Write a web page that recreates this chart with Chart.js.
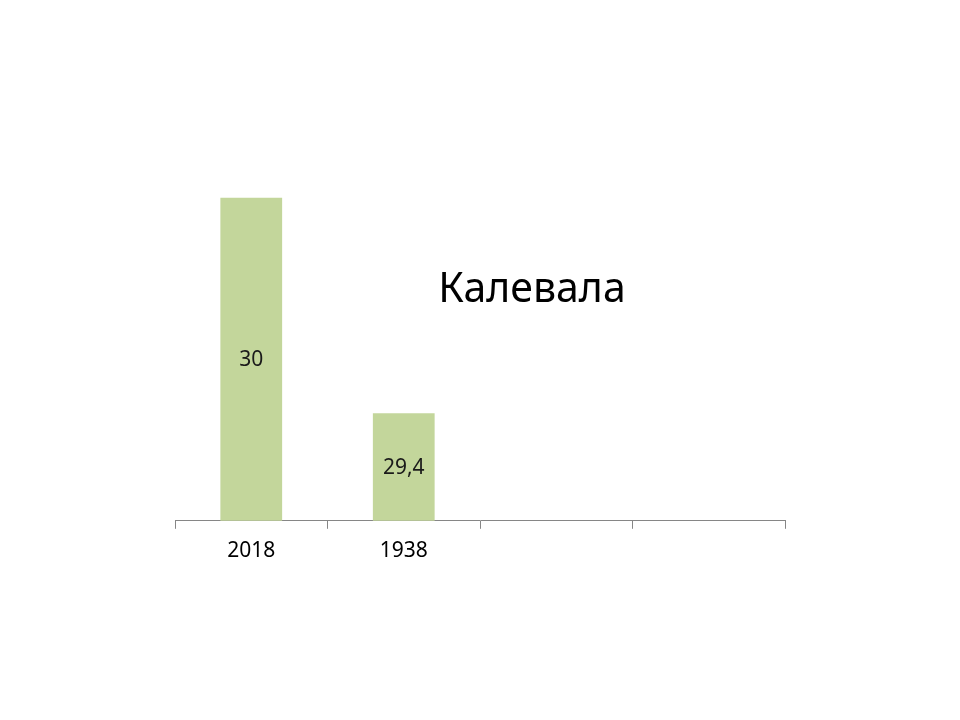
<!DOCTYPE html>
<html>
<head>
<meta charset="utf-8">
<script src="https://cdn.jsdelivr.net/npm/chart.js@4"></script>
<style>
    html, body { margin: 0; padding: 0; background: #ffffff; }
    #wrap { width: 960px; height: 720px; }
</style>
</head>
<body>
<div id="wrap"><canvas id="kalevalaChart" width="960" height="720"></canvas></div>
<script>
// данные
const categories = ['2018', '1938', '', ''];
const values = [30, 29.4, null, null];
const titleText = 'Калевала';

// подписи значений в центре столбцов
const barLabels = {
    id: 'barLabels',
    afterDraw(chart) {
        const c = chart.ctx;
        const xs = chart.scales.x;
        const ys = chart.scales.y;
        const base = ys.getPixelForValue(ys.min);
        c.save();
        c.font = '21px "Noto Sans", sans-serif';
        c.fillStyle = '#1a1a1a';
        c.textAlign = 'center';
        c.textBaseline = 'middle';
        values.forEach((v, i) => {
            if (v === null) return;
            const top = ys.getPixelForValue(v);
            c.fillText(String(v).replace('.', ','), xs.getPixelForValue(i), (top + base) / 2 + 1);
        });
        c.restore();
    }
};

// заголовок внутри области графика
const floatingTitle = {
    id: 'floatingTitle',
    afterDraw(chart) {
        const c = chart.ctx;
        c.save();
        c.font = '41px "Noto Sans", sans-serif';
        c.fillStyle = '#000000';
        c.textAlign = 'center';
        c.textBaseline = 'middle';
        c.fillText(titleText, 532, 290);
        c.restore();
    }
};

const ctx = document.getElementById('kalevalaChart').getContext('2d');
new Chart(ctx, {
    type: 'bar',
    data: {
        labels: categories,
        datasets: [{
            data: values,
            backgroundColor: '#c3d69b',
            borderWidth: 0,
            categoryPercentage: 1,
            barPercentage: 0.405
        }]
    },
    options: {
        responsive: false,
        animation: false,
        layout: { padding: { left: 175, right: 175, top: 126, bottom: 146 } },
        plugins: {
            legend: { display: false },
            title: { display: false },
            tooltip: { enabled: false }
        },
        scales: {
            y: {
                display: false,
                min: 29.1,
                max: 30.2
            },
            x: {
                grid: {
                    display: true,
                    offset: true,
                    drawOnChartArea: false,
                    drawTicks: true,
                    tickLength: 8,
                    color: '#868686'
                },
                border: { display: true, color: '#868686', width: 1 },
                ticks: {
                    font: { family: 'Noto Sans', size: 21 },
                    color: '#000000',
                    padding: 10
                }
            }
        }
    },
    plugins: [barLabels, floatingTitle]
});
</script>
</body>
</html>
